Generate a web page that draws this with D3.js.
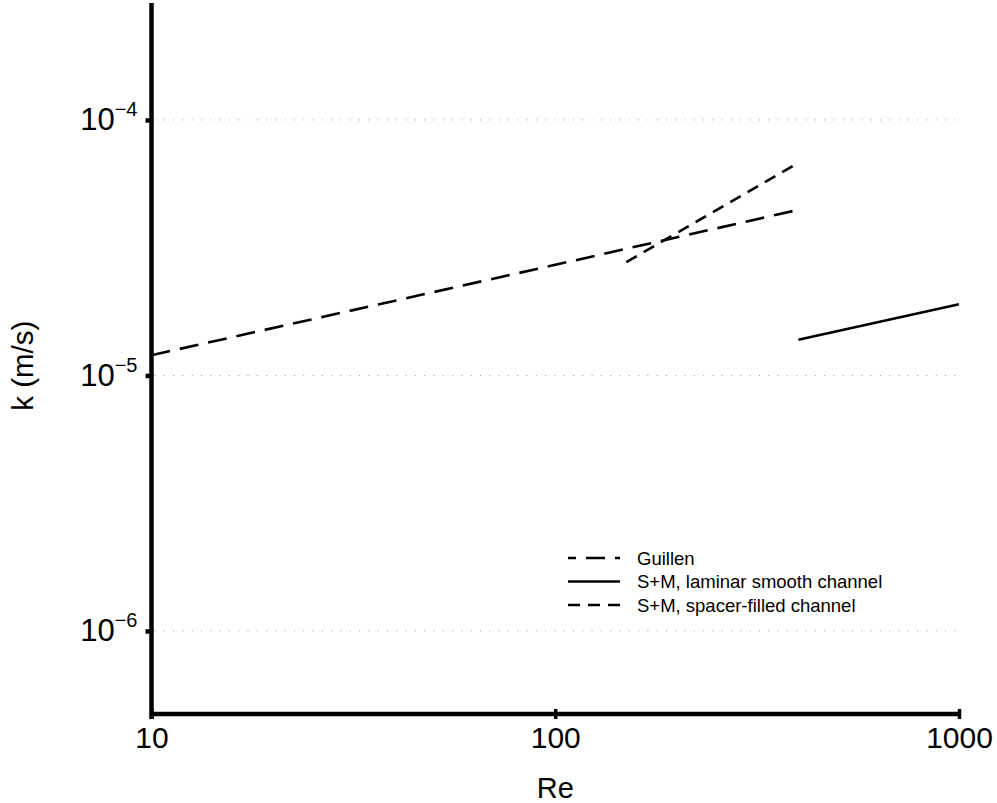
<!DOCTYPE html>
<html>
<head>
<meta charset="utf-8">
<script src="https://cdn.jsdelivr.net/npm/d3@7"></script>
<style>
  body { margin: 0; background: #fff; }
  svg { display: block; font-family: "Liberation Sans", Arial, Helvetica, sans-serif; }
</style>
</head>
<body>
<svg id="chart" width="997" height="803"></svg>
<script>
// ---- data ----
const seriesNames = ["Guillen", "S+M, laminar smooth channel", "S+M, spacer-filled channel"];
const guillenRe = [10, 100, 400];
const guillenK  = [1.2e-5, 2.71e-5, 4.45e-5];
const laminarRe = [400, 1000];
const laminarK  = [1.38e-5, 1.90e-5];
const spacerRe  = [150, 400];
const spacerK   = [2.78e-5, 6.8e-5];
const xTicks = [10, 100, 1000];
const xTickLabels = ["10", "100", "1000"];
const yTicks = [1e-6, 1e-5, 1e-4];
const yTickExponents = ["\u22126", "\u22125", "\u22124"];

(function () {
// ---- layout ----
const svg = d3.select("#chart");
const pLeft = 151.5, pRight = 959, pTop = 3, pBottom = 714;
const x = d3.scaleLog().domain([10, 1000]).range([pLeft, pRight]);
const y = d3.scaleLog().domain([4.73e-7, 2.87e-4]).range([pBottom, pTop]);

// gridlines
svg.append("g").selectAll("line").data(yTicks).join("line")
  .attr("x1", pLeft + 3).attr("x2", pRight)
  .attr("y1", d => y(d)).attr("y2", d => y(d))
  .attr("stroke", "#9a9a9a").attr("stroke-width", 1)
  .attr("stroke-dasharray", "1,8.3");

// x axis
const xAxis = d3.axisBottom(x).tickValues(xTicks).tickFormat(() => "").tickSizeInner(6).tickSizeOuter(0);
const gx = svg.append("g").attr("transform", `translate(0,${pBottom})`).call(xAxis);
gx.select(".domain").remove();
gx.selectAll(".tick line").attr("stroke", "#000").attr("stroke-width", 3.5).attr("y1", -5).attr("y2", 5);
svg.append("line").attr("x1", pLeft).attr("x2", pRight).attr("y1", pBottom).attr("y2", pBottom)
  .attr("stroke", "#000").attr("stroke-width", 4.5);
gx.selectAll(".tick").append("text")
  .attr("y", 34).attr("fill", "#000").attr("text-anchor", "middle")
  .style("font-size", "30px").style("font-family", "Liberation Sans, Arial, sans-serif")
  .text((d, i) => xTickLabels[i]);

// y axis
const yAxis = d3.axisLeft(y).tickValues(yTicks).tickFormat(() => "").tickSizeInner(6).tickSizeOuter(0);
const gy = svg.append("g").attr("transform", `translate(${pLeft},0)`).call(yAxis);
gy.select(".domain").remove();
gy.selectAll(".tick line").attr("stroke", "#000").attr("stroke-width", 4.5);
svg.append("line").attr("x1", pLeft).attr("x2", pLeft).attr("y1", pTop).attr("y2", pBottom + 5)
  .attr("stroke", "#000").attr("stroke-width", 4.5);
const yl = gy.selectAll(".tick").append("text")
  .attr("x", -14).attr("y", 10).attr("fill", "#000").attr("text-anchor", "end")
  .style("font-family", "Liberation Sans, Arial, sans-serif");
yl.append("tspan").style("font-size", "31px").text("10");
yl.append("tspan").style("font-size", "20px").attr("dy", -14).text((d, i) => yTickExponents[i]);

// axis titles
svg.append("text").attr("x", (pLeft + pRight) / 2).attr("y", 798).attr("text-anchor", "middle")
  .style("font-size", "29px").text("Re");
svg.append("text").attr("transform", `translate(33,${(y(1e-5) + y(1e-4)) / 2 + 118}) rotate(-90)`)
  .attr("text-anchor", "middle").style("font-size", "29.5px").text("k (m/s)");

// series
const line = d3.line().x(d => x(d[0])).y(d => y(d[1]));
const styles = [
  { re: guillenRe, k: guillenK, dash: "19,10" },
  { re: laminarRe, k: laminarK, dash: null },
  { re: spacerRe, k: spacerK, dash: "12,8" }
];
styles.forEach(s => {
  const pts = s.re.map((r, i) => [r, s.k[i]]);
  svg.append("path").datum(pts).attr("d", line)
    .attr("fill", "none").attr("stroke", "#000").attr("stroke-width", 2.6)
    .attr("stroke-dasharray", s.dash);
});

// legend
const legendDash = ["19,10", null, "12,8"];
const legendOff = [11, 0, 0];
const lg = svg.append("g").selectAll("g").data(seriesNames).join("g")
  .attr("transform", (d, i) => `translate(568,${558 + i * 23.5})`);
lg.append("line").attr("x1", 0).attr("x2", 52).attr("y1", 0).attr("y2", 0)
  .attr("stroke", "#000").attr("stroke-width", 2.6)
  .attr("stroke-dasharray", (d, i) => legendDash[i])
  .attr("stroke-dashoffset", (d, i) => legendOff[i]);
lg.append("text").attr("x", 69).attr("dy", "0.36em").style("font-size", "18.5px").text(d => d);
})();
</script>
</body>
</html>
